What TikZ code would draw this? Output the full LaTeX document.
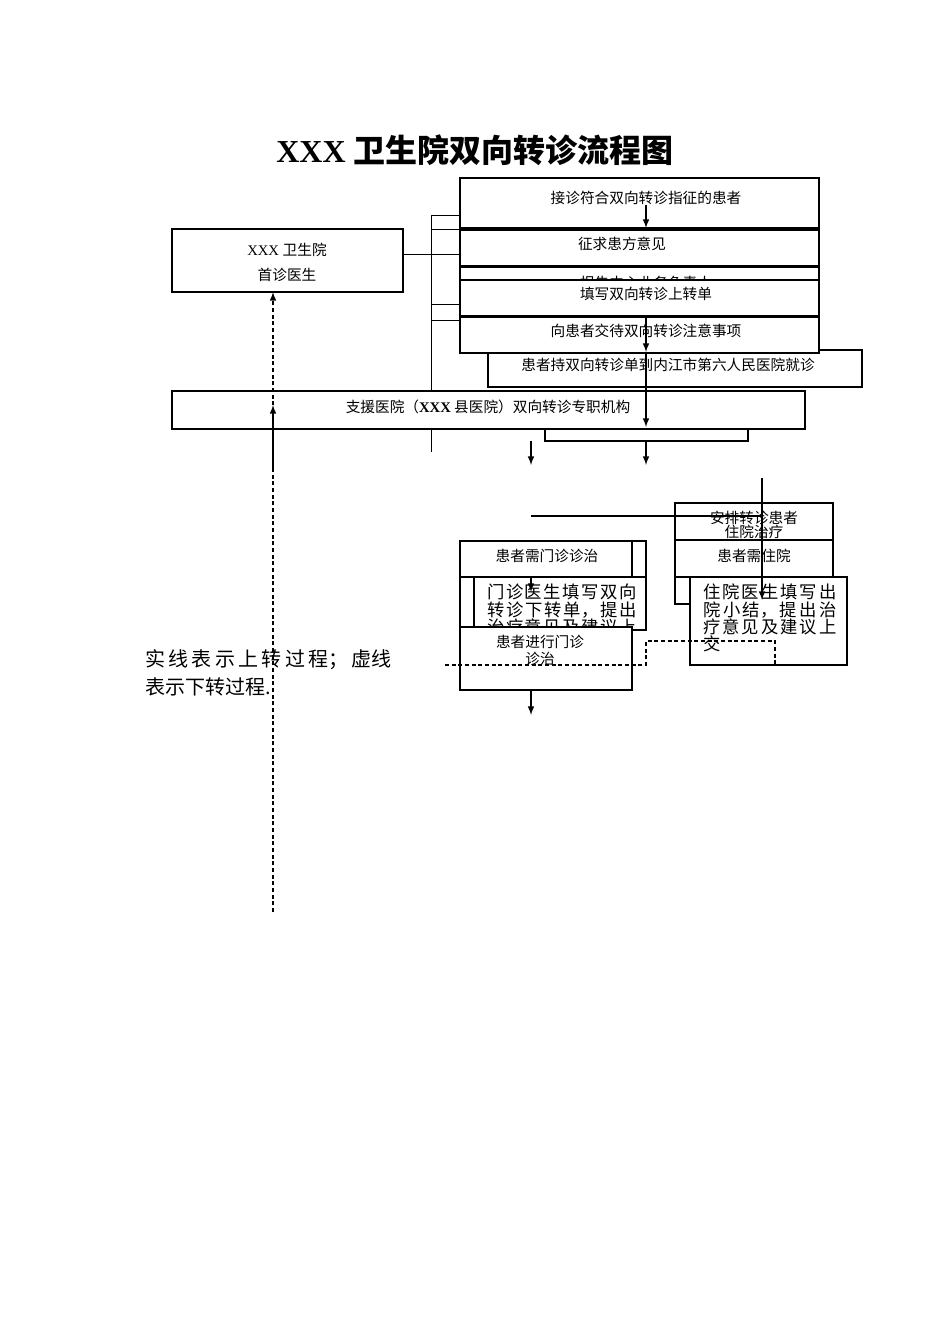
\documentclass[tikz,border=0pt]{standalone}
\usepackage{fontspec}
\setmainfont{Liberation Serif}
\newfontfamily\cjk{Noto Sans CJK SC}
\XeTeXlinebreaklocale "zh"
\XeTeXlinebreakskip=0pt plus 3pt
\begin{document}
\begin{tikzpicture}[x=0.75pt,y=-0.75pt,
  bx/.style={draw,fill=white,line width=0.8pt},
  tx/.style={font=\cjk\fontsize{11}{13}\selectfont,inner sep=0pt},
  ar/.style={-latex,line width=1.2pt},
  dsh/.style={densely dashed,line width=1.2pt}]
\useasboundingbox (0,0) rectangle (950,1344);
\node[inner sep=0pt,font=\bfseries\fontsize{24}{28}\selectfont] (title) at (475,150) {XXX {\cjk 卫生院双向转诊流程图}};
% bracket lines
\draw[line width=0.6pt] (431,215) -- (431,452);
\foreach \y in {215,229,304,320} \draw[line width=0.6pt] (431,\y) -- (460,\y);
\draw[line width=0.6pt] (403,254) -- (460,254);
% hidden box
\draw[bx] (460,267) rectangle (819,300);
\node[tx] (hid) at (646,283) {报告中心业务负责人};
\draw[bx] (460,178) rectangle (819,228); \node[tx] (a) at (646,198) {接诊符合双向转诊指征的患者};
\draw[bx] (460,230) rectangle (819,266); \node[tx] (b) at (622,244) {征求患方意见};
\draw[bx] (460,280) rectangle (819,316); \node[tx] (c) at (646,294) {填写双向转诊上转单};
\draw[bx] (488,350) rectangle (862,387); \node[tx] (e) at (668,365) {患者持双向转诊单到内江市第六人民医院就诊};
\draw[bx] (460,317) rectangle (819,353); \node[tx] (d) at (646,331) {向患者交待双向转诊注意事项};
\draw[bx] (172,229) rectangle (403,292);
\node[tx] (h1) at (287,250) {\fontspec{Liberation Serif}XXX {\cjk 卫生院}};
\node[tx] (h2) at (287,275) {首诊医生};
\draw[line width=0.8pt] (545,429) rectangle (748,441);
\draw[bx] (172,391) rectangle (805,429);
\node[tx] (f) at (488,407) {支援医院（{\fontspec{Liberation Serif}\bfseries XXX} 县医院）双向转诊专职机构};
\coordinate (p1) at (646,205); \coordinate (p2) at (646,228);
\draw[ar] (p1) -- (p2);
\coordinate (p3) at (646,317); \coordinate (p4) at (646,352);
\draw[ar] (p3) -- (p4);
\coordinate (p5) at (646,388); \coordinate (p6) at (646,427);
\draw[ar] (p4) -- (p5) -- (p6);
\coordinate (p7) at (646,441); \coordinate (p8) at (646,465);
\draw[ar] (p7) -- (p8);
\coordinate (q1) at (531,441); \coordinate (q2) at (531,465);
\draw[ar] (q1) -- (q2);
% left vertical
\coordinate (l1) at (273,912); \coordinate (l2) at (273,292); \coordinate (l3) at (273,470); \coordinate (l4) at (273,405);
\draw[dsh,-latex] (l1) -- (l2);
\draw[ar] (l3) -- (l4);
% lower right
\draw[line width=0.8pt] (675,540) rectangle (690,604);
\draw[bx] (675,503) rectangle (833,540);
\node[tx,align=center] (k) at (754,525) {安排转诊患者\\[-2pt]住院治疗};
\draw[bx] (675,540) rectangle (833,577); \node[tx] (m) at (754,556) {患者需住院};
\draw[bx] (690,577) rectangle (847,665);
\node[tx,anchor=north west,text width=100pt,align=justify,font=\cjk\fontsize{13}{13}\selectfont] (n) at (703,584) {住院医生填写出院小结，提出治疗意见及建议上交};
\draw[line width=1.4pt] (531,516) -- (762,516);
\coordinate (r1) at (762,478); \coordinate (r2) at (762,600);
\draw[ar] (r1) -- (r2);
% lower left
\draw[line width=0.8pt] (460,541) rectangle (646,627);
\draw[bx] (474,577) rectangle (646,630);
\begin{scope}
\clip (474,577) rectangle (646,627);
\node[tx,anchor=north west,text width=112pt,align=justify,font=\cjk\fontsize{13}{13}\selectfont] (o) at (487,584) {门诊医生填写双向转诊下转单，提出治疗意见及建议上交};
\end{scope}
\draw[bx] (460,541) rectangle (632,577); \node[tx] (g) at (547,556) {患者需门诊诊治};
\coordinate (s1) at (531,577); \coordinate (s2) at (531,592);
\draw[ar] (s1) -- (s2);
\draw[bx] (460,627) rectangle (632,690);
\node[tx] (t1) at (540,642) {患者进行门诊};
\node[tx] (t2) at (540,659) {诊治};
\coordinate (u1) at (531,690); \coordinate (u2) at (531,715);
\draw[ar] (u1) -- (u2);
\draw[dsh] (445,665) -- (646,665) -- (646,641) -- (775,641) -- (775,665);
\node[anchor=west,inner sep=0pt,font=\cjk\fontsize{15}{17}\selectfont] (lg1) at (145,660) {实\,线\,表\,示\,上\,转\,过\,程；\,虚线};
\node[anchor=west,inner sep=0pt,font=\cjk\fontsize{15}{17}\selectfont] (lg2) at (145,687) {表示下转过程.};
\end{tikzpicture}
\end{document}
